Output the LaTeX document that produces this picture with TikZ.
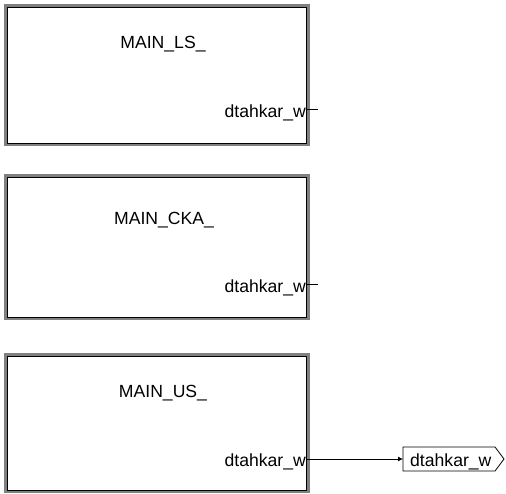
\documentclass[tikz,border=0pt]{standalone}
\usepackage{fontspec}
\setmainfont{Liberation Sans}
\usetikzlibrary{arrows.meta}
\begin{document}
\begin{tikzpicture}[x=1pt,y=-1pt,
  outerframe/.style={draw=black!50,line width=2.6pt},
  innerframe/.style={draw=black,line width=0.9pt},
  lbl/.style={inner sep=0pt,font=\fontsize{17.6}{20}\selectfont},
  wire/.style={draw=black,line width=0.8pt}]
\useasboundingbox (0,0) rectangle (506,493);
% Box 1
\draw[outerframe] (5.5,5.5) rectangle (308.5,144.5);
\draw[innerframe] (7.5,7.5) rectangle (306.5,143);
\node[lbl,anchor=base] (t1) at (163,48) {MAIN\_LS\_};
\node[lbl,anchor=base east] (p1) at (306,117) {dtahkar\_w};
\coordinate (s1) at (318,109);
\draw[wire] (306.5,109) -- (s1);
% Box 2
\draw[outerframe] (5.5,175.5) rectangle (308.5,318.5);
\draw[innerframe] (7.5,177.5) rectangle (306.5,317);
\node[lbl,anchor=base] (t2) at (164,224) {MAIN\_CKA\_};
\node[lbl,anchor=base east] (p2) at (306,292) {dtahkar\_w};
\coordinate (s2) at (318,284);
\draw[wire] (306.5,284) -- (s2);
% Box 3
\draw[outerframe] (5.5,354.5) rectangle (308.5,491.5);
\draw[innerframe] (7.5,356.5) rectangle (306.5,490);
\node[lbl,anchor=base] (t3) at (163,397) {MAIN\_US\_};
\node[lbl,anchor=base east] (p3) at (306,466) {dtahkar\_w};
\coordinate (o3) at (306.5,459);
% Goto tag
\draw[line width=0.8pt] (403,447) -- (495,447) -- (504,459) -- (495,471) -- (403,471) -- cycle;
\coordinate (g) at (403,459);
\node[lbl,anchor=base west] (gt) at (410,466) {dtahkar\_w};
\draw[wire,-{Latex[length=5pt,width=5pt]}] (o3) -- (g);
\end{tikzpicture}
\end{document}
